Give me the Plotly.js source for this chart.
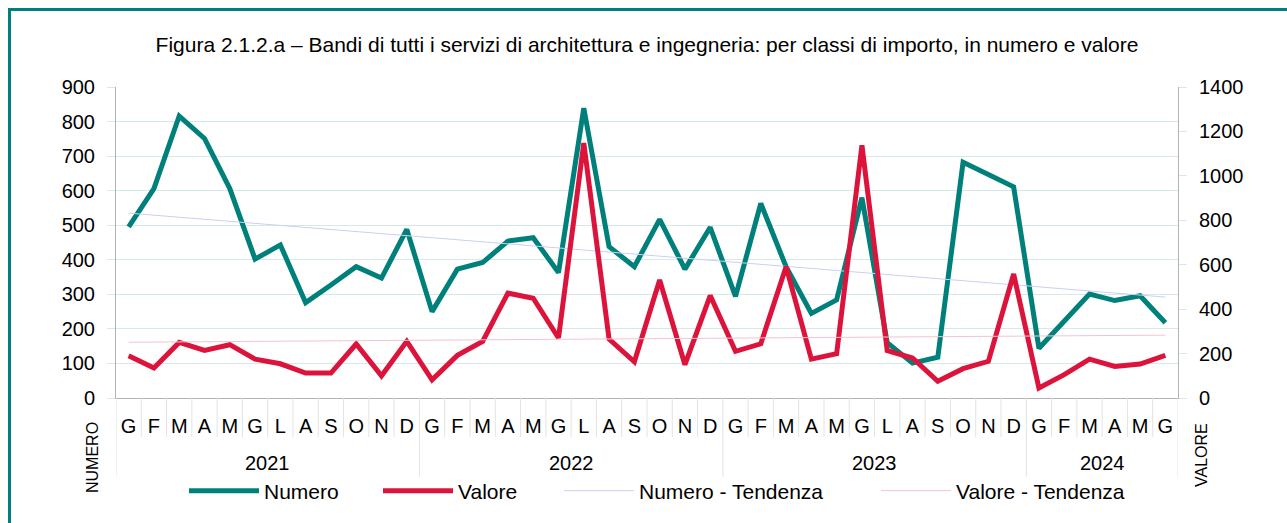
<!DOCTYPE html>
<html>
<head>
<meta charset="utf-8">
<script src="https://cdn.plot.ly/plotly-3.0.1.min.js"></script>
<style>
  body { margin: 0; background: #fff; overflow: hidden; }
  #wrap { position: relative; width: 1287px; height: 523px; }
  #chart { width: 1287px; height: 523px; }
  #frame {
    position: absolute; left: 8px; top: 8px; width: 1300px; height: 540px;
    border: 3px solid #00807a; pointer-events: none;
  }
</style>
</head>
<body>
<div id="wrap">
  <div id="chart"></div>
  <div id="frame"></div>
</div>
<script>
const years = ["2021", "2022", "2023", "2024"];
const monthsPerYear = [12, 12, 12, 6];
const monthLetters = ["G", "F", "M", "A", "M", "G", "L", "A", "S", "O", "N", "D"];

const numero = [
  495, 606, 816, 751, 606, 402, 443, 276, 327, 380, 347, 488,
  250, 373, 392, 454, 464, 363, 839, 438, 380, 517, 373, 494,
  294, 563, 380, 245, 284, 580, 160, 101, 118, 682, 647, 611,
  144, 225, 301, 282, 296, 218
];
const valore = [
  190, 135, 250, 214, 240, 175, 154, 112, 112, 243, 100, 255,
  82, 192, 255, 472, 449, 270, 1148, 265, 163, 531, 150, 461,
  210, 244, 591, 175, 199, 1138, 213, 180, 75, 132, 165, 558,
  45, 105, 175, 142, 153, 192
];
// trend lines read at first and last month
const numeroTrend = [535, 292];
const valoreTrend = [251, 283];

// one x slot per month
const xIdx = [];
const xText = [];
const yearStart = [];
years.forEach((y, i) => {
  yearStart.push(xIdx.length);
  for (let m = 0; m < monthsPerYear[i]; m++) {
    xText.push(monthLetters[m]);
    xIdx.push(xIdx.length);
  }
});
const n = xIdx.length;
const trendX = [0, n - 1];

const font = "Liberation Sans, Arial, sans-serif";
const teal = "#00807a";
const red = "#dc143c";
const sepColor = "#e3e3e3";

// separators under the axis: short between months, long between years
const shapes = [];
for (let i = 0; i <= n; i++) {
  const isYear = i === n || yearStart.includes(i);
  shapes.push({
    type: "line", xref: "x", yref: "paper",
    x0: i - 0.5, x1: i - 0.5,
    y0: 0, y1: isYear ? -79 / 311 : -39 / 311,
    line: { color: sepColor, width: 1 }
  });
}

const annotations = years.map((y, i) => ({
  text: y, showarrow: false, xref: "x", yref: "paper",
  x: yearStart[i] + (monthsPerYear[i] - 1) / 2,
  y: -65 / 311, xanchor: "center", yanchor: "middle",
  font: { size: 20 }
}));
annotations.push(
  {
    text: "NUMERO", textangle: -90, showarrow: false,
    xref: "paper", yref: "paper",
    x: (92 - 116) / 1062, y: (398 - 458) / 311,
    xanchor: "center", yanchor: "middle",
    font: { size: 16 }
  },
  {
    text: "VALORE", textangle: -90, showarrow: false,
    xref: "paper", yref: "paper",
    x: (1201 - 116) / 1062, y: (398 - 455) / 311,
    xanchor: "center", yanchor: "middle",
    font: { size: 16 }
  }
);

const traces = [
  {
    x: xIdx, y: numero, type: "scatter", mode: "lines",
    name: "Numero", line: { color: teal, width: 5 }, yaxis: "y",
    legend: "legend"
  },
  {
    x: xIdx, y: valore, type: "scatter", mode: "lines",
    name: "Valore", line: { color: red, width: 5 }, yaxis: "y2",
    legend: "legend2"
  },
  {
    x: trendX, y: numeroTrend, type: "scatter", mode: "lines",
    name: "Numero - Tendenza", line: { color: "#c9d0f2", width: 1 }, yaxis: "y",
    legend: "legend3"
  },
  {
    x: trendX, y: valoreTrend, type: "scatter", mode: "lines",
    name: "Valore - Tendenza", line: { color: "#f4c3cf", width: 1 }, yaxis: "y2",
    legend: "legend4"
  }
];

// each legend entry placed on its own, like the original spacing
function legendAt(px) {
  return {
    orientation: "h",
    x: (px - 116) / 1062, xanchor: "left",
    y: (398 - 491) / 311, yanchor: "middle",
    itemwidth: 70,
    font: { size: 21 },
    bgcolor: "rgba(0,0,0,0)"
  };
}

const layout = {
  width: 1287,
  height: 523,
  margin: { l: 116, r: 109, t: 87, b: 125 },
  paper_bgcolor: "#fff",
  plot_bgcolor: "#fff",
  font: { family: font, color: "#000", size: 20 },
  showlegend: true,
  title: {
    text: "Figura 2.1.2.a – Bandi di tutti i servizi di architettura e ingegneria: per classi di importo, in numero e valore",
    font: { size: 21, family: font },
    x: 0.5, xanchor: "center", xref: "paper",
    y: 1 - 45 / 523, yanchor: "middle"
  },
  xaxis: {
    type: "linear",
    range: [-0.5, n - 0.5],
    tickmode: "array", tickvals: xIdx, ticktext: xText,
    showline: true, linecolor: "#b3b3b3", linewidth: 1,
    ticks: "", ticklabelstandoff: 10,
    showgrid: false, zeroline: false,
    tickfont: { size: 20 }
  },
  yaxis: {
    range: [0, 900], dtick: 100,
    showline: true, linecolor: "#b3b3b3",
    gridcolor: "#d6e8e7", zeroline: false,
    ticks: "outside", ticklen: 8, tickcolor: "#d6e8e7",
    ticklabelstandoff: 8,
    tickfont: { size: 20 }
  },
  yaxis2: {
    range: [0, 1400], dtick: 200, overlaying: "y", side: "right",
    showline: true, linecolor: "#b3b3b3",
    showgrid: false, zeroline: false,
    ticks: "outside", ticklen: 8, tickcolor: "#d6e8e7",
    ticklabelstandoff: 8,
    tickfont: { size: 20 }
  },
  legend: legendAt(184),
  legend2: legendAt(378),
  legend3: legendAt(559),
  legend4: legendAt(876),
  shapes: shapes,
  annotations: annotations
};

Plotly.newPlot("chart", traces, layout, { displayModeBar: false, staticPlot: true });
</script>
</body>
</html>
